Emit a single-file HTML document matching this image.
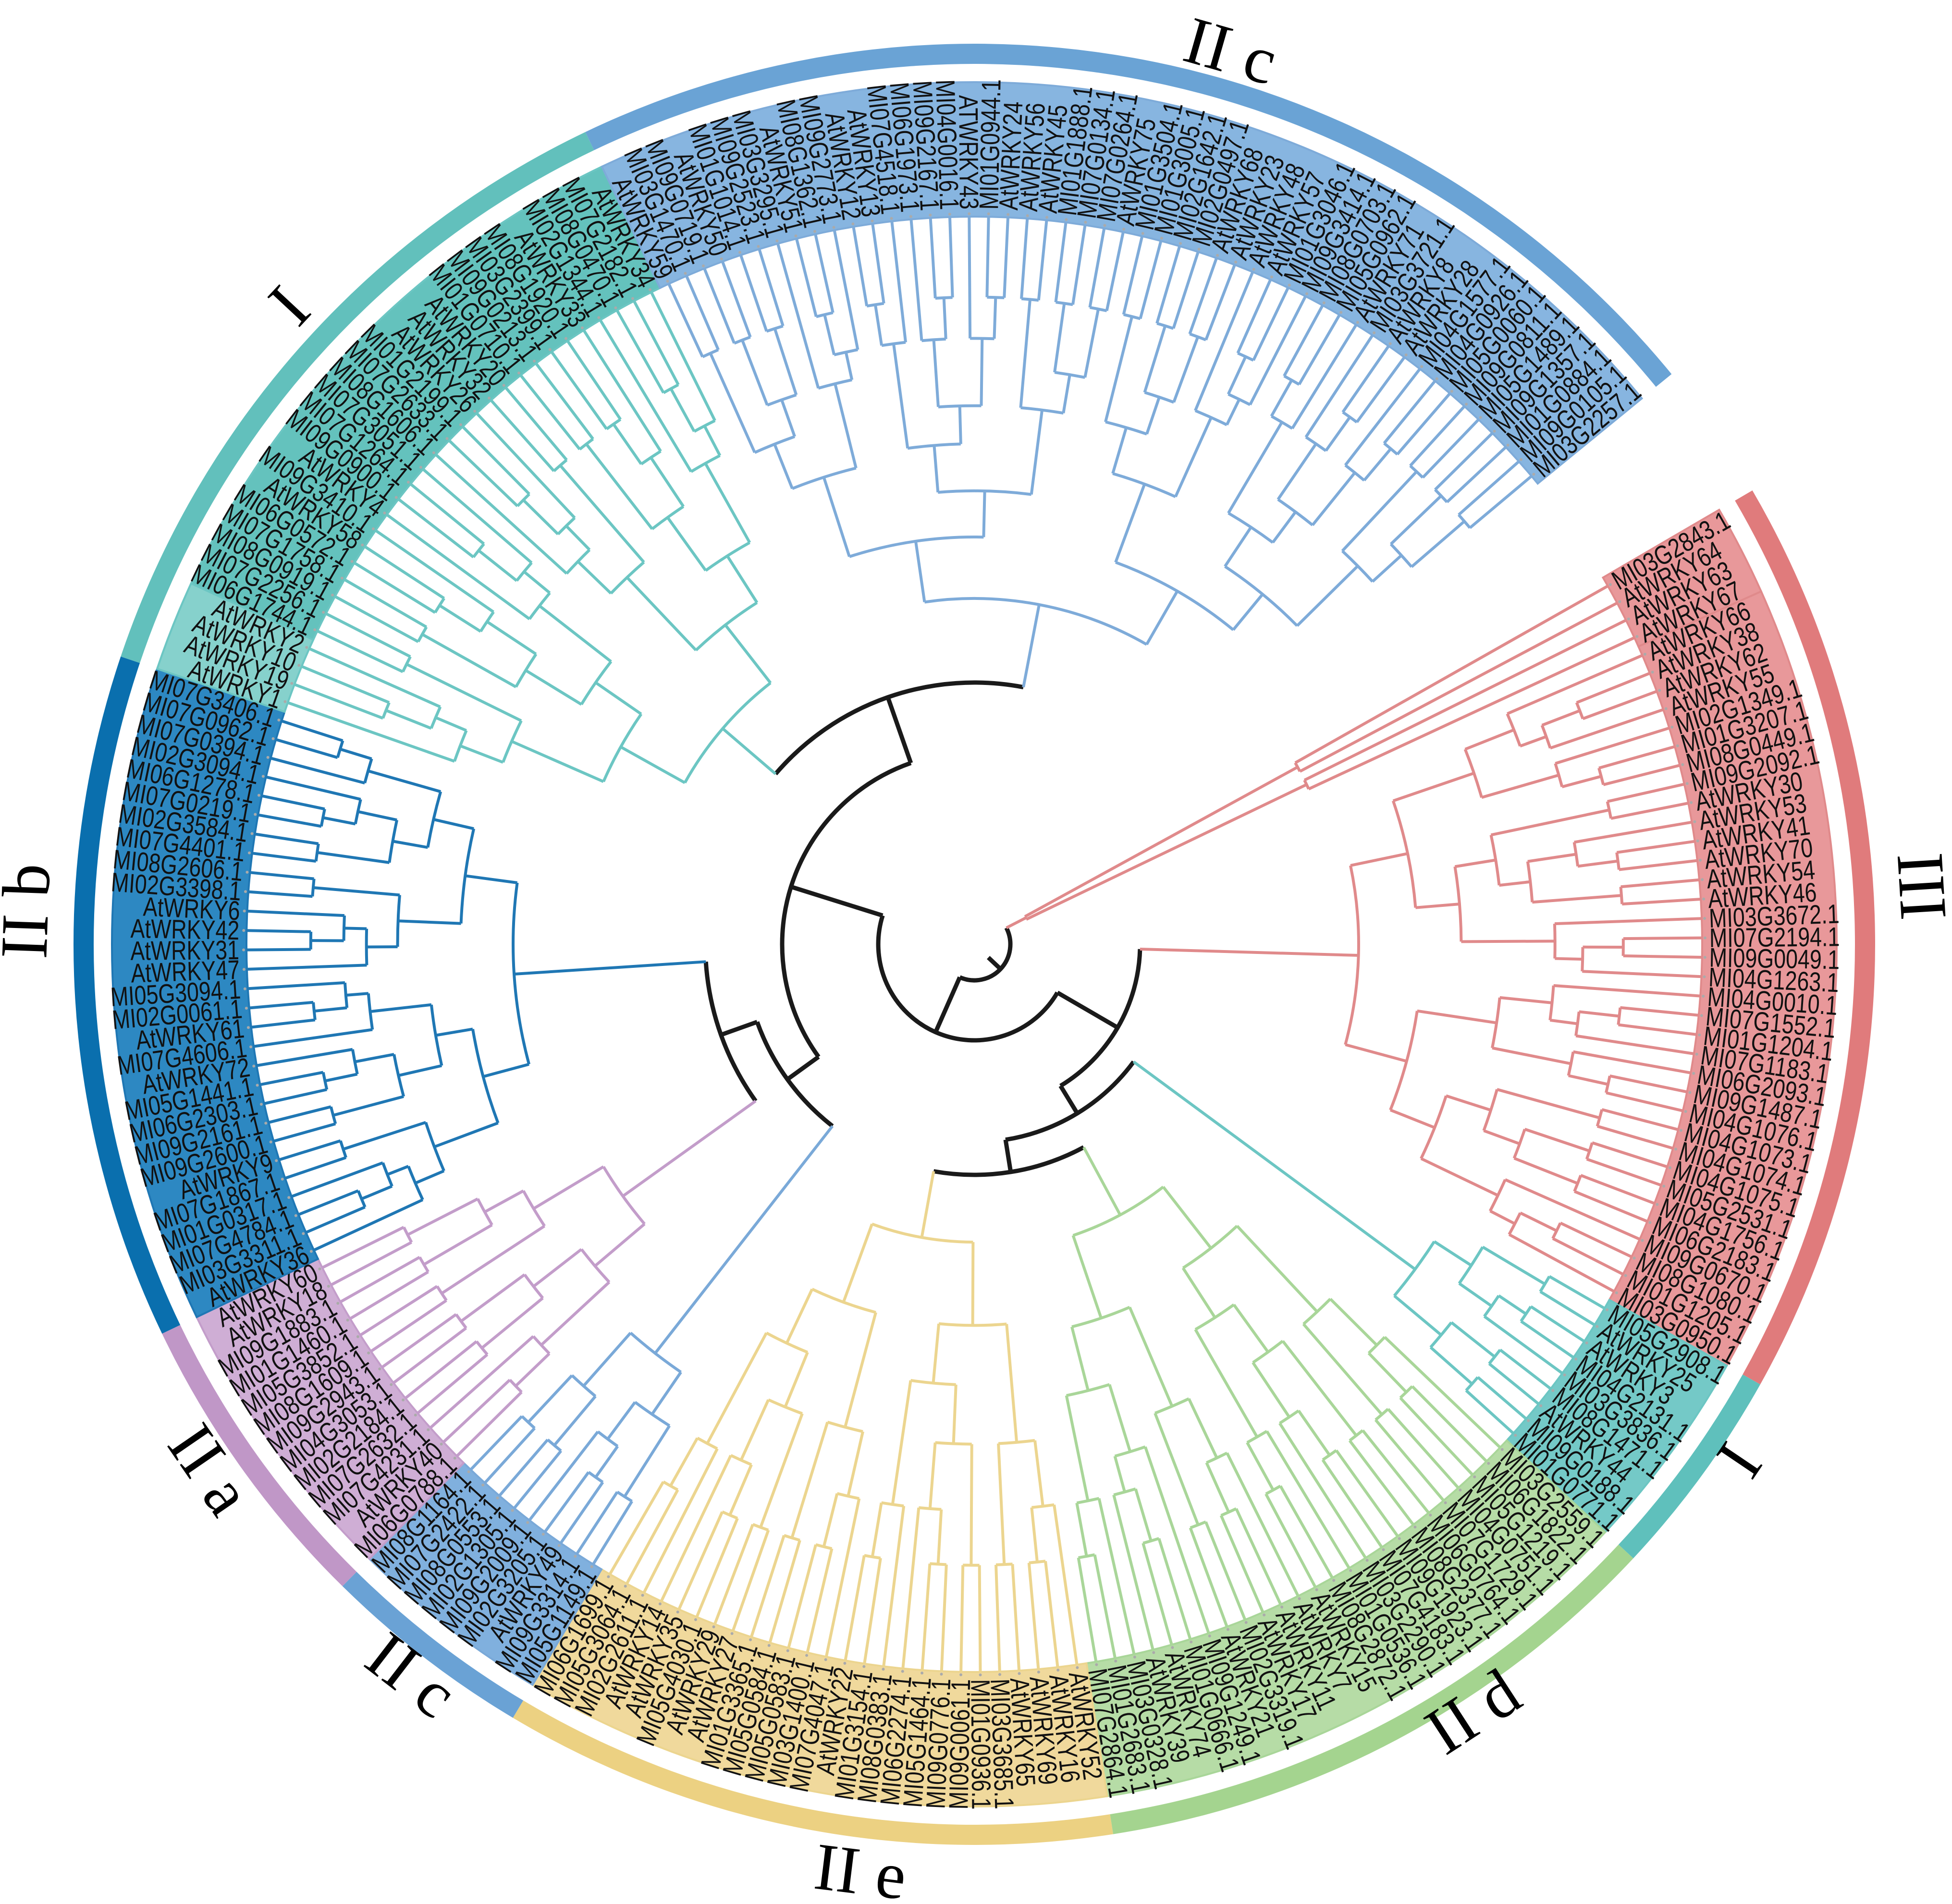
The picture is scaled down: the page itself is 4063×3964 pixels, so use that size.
<!DOCTYPE html>
<html><head><meta charset="utf-8"><title>WRKY phylogenetic tree</title>
<style>
html,body{margin:0;padding:0;background:#fff;}
svg{display:block;}
.leaf{font-family:"Liberation Sans",Arial,sans-serif;font-size:56px;fill:#111;font-weight:500;}
.clade{font-family:"Liberation Serif","Times New Roman",serif;font-size:140px;fill:#000;}
</style></head>
<body>
<svg id="chart" xmlns="http://www.w3.org/2000/svg" width="4063" height="3964" viewBox="0 0 4063 3964">
<rect x="0" y="0" width="4063" height="3964" fill="#fff"/>
<g id="bands"></g>
<g id="rings"></g>
<g id="branches"></g>
<g id="labels"></g>
<g id="cladelabels"></g>
</svg>
<script>
// ---- data ----
const leafNames = [
"MI03G2843.1","AtWRKY64","AtWRKY63","AtWRKY67",
"AtWRKY66","AtWRKY38","AtWRKY62","AtWRKY55","MI02G1349.1","MI01G3207.1","MI08G0449.1","MI09G2092.1","AtWRKY30","AtWRKY53","AtWRKY41","AtWRKY70","AtWRKY54","AtWRKY46","MI03G3672.1","MI07G2194.1","MI09G0049.1","MI04G1263.1","MI04G0010.1","MI07G1552.1","MI01G1204.1","MI07G1183.1","MI06G2093.1","MI09G1487.1","MI04G1076.1","MI04G1073.1","MI04G1074.1","MI04G1075.1","MI05G2531.1","MI04G1756.1","MI06G2183.1","MI09G0670.1","MI08G1080.1","MI01G1205.1","MI03G0950.1",
"MI05G2908.1","AtWRKY25","AtWRKY3","MI04G2131.1","MI03G3836.1","MI08G1471.1","AtWRKY44","MI09G0188.1","MI01G0771.1",
"MI03G2559.1","MI06G1822.1","MI05G1219.1","MI04G0751.1","MI07G1729.1","MI06G0764.1","MI08G2377.1","MI09G1923.1","MI07G4183.1","MI03G2290.1","MI01G0536.1","MI08G2872.1","AtWRKY15","AtWRKY7","AtWRKY11","AtWRKY17","MI02G3319.1","AtWRKY21","MI09G1249.1","MI01G0666.1","AtWRKY74","AtWRKY39","MI03G0328.1","MI01G2683.1","MI07G2864.1",
"AtWRKY52","AtWRKY16","AtWRKY69","AtWRKY65","MI03G3685.1","MI01G0936.1","MI09G0061.1","MI09G0776.1","MI05G1464.1","MI06G2274.1","MI08G0383.1","MI01G3154.1","AtWRKY22","MI07G4047.1","MI03G1400.1","MI05G0583.1","MI05G0584.1","MI01G3365.1","AtWRKY27","AtWRKY29","MI05G4030.1","AtWRKY35","AtWRKY14","MI02G2611.1","MI05G3064.1","MI06G1699.1",
"MI05G1149.1","MI09G3314.1","AtWRKY49","MI02G3205.1","MI09G2009.1","MI02G1305.1","MI08G0553.1","MI07G2422.1","MI08G1164.1",
"MI06G0788.1","AtWRKY40","MI07G4231.1","MI07G2632.1","MI02G2184.1","MI04G3053.1","MI09G2943.1","MI08G1609.1","MI05G3852.1","MI01G1460.1","MI09G1883.1","AtWRKY18","AtWRKY60",
"AtWRKY36","MI03G3311.1","MI07G4784.1","MI01G0317.1","MI07G1867.1","AtWRKY9","MI09G2600.1","MI09G2161.1","MI06G2303.1","MI05G1441.1","AtWRKY72","MI07G4606.1","AtWRKY61","MI02G0061.1","MI05G3094.1","AtWRKY47","AtWRKY31","AtWRKY42","AtWRKY6","MI02G3398.1","MI08G2606.1","MI07G4401.1","MI02G3584.1","MI07G0219.1","MI06G1278.1","MI02G3094.1","MI07G0394.1","MI07G0962.1","MI07G3406.1",
"AtWRKY1","AtWRKY19","AtWRKY10","AtWRKY2","MI06G1744.1","MI07G2256.1","MI08G0919.1","MI07G1758.1","MI06G0572.1","AtWRKY58","MI09G3410.1","AtWRKY4","MI09G0900.1","MI07G1264.1","MI07G3051.1","MI08G1606.1","MI07G2633.1","MI01G2199.1","AtWRKY26","AtWRKY32","AtWRKY20","MI01G0710.1","MI09G0213.1","MI03G2399.1","MI08G1920.1","AtWRKY33","MI02G1344.1","MI08G0470.1","MI07G2182.1","AtWRKY34",
"AtWRKY59","MI03G1470.1","MI09G0719.1","AtWRKY50","MI01G1014.1","MI09G2523.1","MI03G3295.1","AtWRKY51","MI08G1362.1","MI09G2773.1","AtWRKY12","AtWRKY13","MI07G4518.1","MI06G1973.1","MI09G2167.1","MI04G0016.1","ATWRKY43","MI01G0944.1","AtWRKY24","AtWRKY56","AtWRKY45","MI01G1888.1","MI07G0134.1","MI07G0264.1","AtWRKY75","MI01G3504.1","MI01G3005.1","MI02G1642.1","MI02G0497.1","AtWRKY68","AtWRKY23","AtWRKY48","AtWRKY57","MI01G3046.1","MI09G3414.1","MI08G0703.1","MI05G0962.1","AtWRKY71","MI03G3721.1","AtWRKY8","AtWRKY28","MI04G1577.1","MI04G0926.1","MI05G0060.1","MI09G0811.1","MI05G1489.1","MI09G1357.1","MI01G0884.1","MI09G0105.1","MI03G2257.1"
];
const cladeKeys   = ["IIIa","IIIb","Ir","IId","IIe","IIcL","IIa","IIb","Iu","IIcT"];
const cladeSizes  = [4,35,9,25,26,9,13,29,30,50];
const cladeRootR  = [120,800,1140,640,620,1080,900,960,690,720];
const cladeLine   = ["#e08a8b","#e08a8b","#6cc6c3","#a9d699","#ecd58f","#7aa9d8","#c39dca","#1f77b4","#6cc6c3","#7eabd9"];
const cladeBand   = ["#e8989a","#e8989a","#74c9c7","#b6dca6","#f0d99c","#80b0de","#cfaed5","#2d88c2","#64c2bd","#87b5e0"];
const ringGroups  = ["III","I","IId","IIe","IIc","IIa","IIb","I","IIc"];
const ringSizes   = [39,9,25,26,9,13,29,30,50];
const ringColors  = ["#e07b7c","#5fc0bc","#a4d48f","#ecd182","#6aa2d5","#c097c7","#0a6fae","#62c0bc","#6aa3d5"];
const cladeLabelText  = ["III","II c","I","II b","II a","II c","II e","II d","I"];
const cladeLabelAngle = [-3.5,-74,223,182,145.5,127.6,97,57,34];
const cladeLabelR     = [1976,1935,1950,1976,1930,1920,1945,1905,1920];

// ---- geometry ----
const CX=2028, CY=1966, TIP=1515, BAND0=1515, BAND1=1795, RING0=1833, RING1=1875;
const START=-29.5, STEP=1.526;
const NS="http://www.w3.org/2000/svg";
function ang(i){return START+i*STEP;}
function pt(a,r){const t=a*Math.PI/180;return [CX+r*Math.cos(t),CY+r*Math.sin(t)];}
function arcPath(a0,a1,r){const p=pt(a0,r),q=pt(a1,r);const lg=(a1-a0)>180?1:0;return `M${p[0].toFixed(1)},${p[1].toFixed(1)}A${r},${r} 0 ${lg} 1 ${q[0].toFixed(1)},${q[1].toFixed(1)}`;}
function sector(a0,a1,r0,r1){const p=pt(a0,r1),q=pt(a1,r1),s=pt(a1,r0),u=pt(a0,r0);const lg=(a1-a0)>180?1:0;
 return `M${p[0]},${p[1]}A${r1},${r1} 0 ${lg} 1 ${q[0]},${q[1]}L${s[0]},${s[1]}A${r0},${r0} 0 ${lg} 0 ${u[0]},${u[1]}Z`;}
function mk(tag,attrs,parent){const e=document.createElementNS(NS,tag);for(const k in attrs)e.setAttribute(k,attrs[k]);parent.appendChild(e);return e;}

const gB=document.getElementById("bands"),gR=document.getElementById("rings"),gT=document.getElementById("branches"),gL=document.getElementById("labels"),gC=document.getElementById("cladelabels");

const cladeStart=[];{let s=0;for(const n of cladeSizes){cladeStart.push(s);s+=n;}}

cladeKeys.forEach((k,ci)=>{
 const s=cladeStart[ci],n=cladeSizes[ci];
 const e=mk("path",{d:sector(ang(s)-STEP/2,ang(s+n-1)+STEP/2,BAND0,BAND1),fill:cladeBand[ci],stroke:cladeLine[ci],"stroke-width":4},gB);
 
 
});
{const s=cladeStart[8];const e=mk("path",{d:sector(ang(s)-STEP/2,ang(s+3)+STEP/2,BAND0,BAND1),fill:"#86d1cc",stroke:"#6cc6c3","stroke-width":4},gB);
 
 }

{let s=0;ringGroups.forEach((g,i)=>{
 const n=ringSizes[i];
 const e=mk("path",{d:sector(ang(s)-STEP/2,ang(s+n-1)+STEP/2,RING0,RING1),fill:ringColors[i]},gR);
 
 
 s+=n;});}

const FR=[0.5,0.4,0.6,0.35,0.55,0.45];
function sub(lo,hi,R,N,d,ci){
 const n=hi-lo;
 if(n===1) return {a:ang(lo),r:TIP,ci:ci,c:[]};
 const r = n===N?R:TIP-(TIP-R)*Math.pow(Math.log(n)/Math.log(N),0.9);
 let m=lo+Math.round(n*FR[d%FR.length]);m=Math.max(lo+1,Math.min(hi-1,m));
 const c=[sub(lo,m,R,N,d+1,ci),sub(m,hi,R,N,d+1,ci)];
 return {a:(c[0].a+c[1].a)/2,r:r,ci:ci,c:c};
}
const cladeRoots={};
cladeKeys.forEach((k,ci)=>{cladeRoots[k]=sub(cladeStart[ci],cladeStart[ci]+cladeSizes[ci],cladeRootR[ci],cladeSizes[ci],0,ci);});

const backbone={r:75,c:["IIIa",{r:200,c:[
  {r:345,c:["IIIb",{r:412,c:["Ir",{r:480,c:["IId","IIe"]}]}]},
  {r:400,c:[{r:480,c:["IIcL",{r:560,c:["IIa","IIb"]}]},{r:545,c:["Iu","IIcT"]}]}
]}]};
function resolve(node){
 if(typeof node==="string") return cladeRoots[node];
 const c=node.c.map(resolve);
 return {a:(c[0].a+c[c.length-1].a)/2,r:node.r,ci:-1,c:c};
}
const root=resolve(backbone);

function drawNode(nd){
 if(nd.c.length===0) return;
 const col=nd.ci<0?"#1a1a1a":cladeLine[nd.ci];
 const sw=nd.ci<0?9:6;
 const a0=Math.min(...nd.c.map(x=>x.a)),a1=Math.max(...nd.c.map(x=>x.a));
 const arc=mk("path",{d:arcPath(a0,a1,nd.r),fill:"none",stroke:col,"stroke-width":sw},gT);
 
 
 nd.c.forEach(ch=>{
  const cc=ch.ci<0?"#1a1a1a":cladeLine[ch.ci];
  const p=pt(ch.a,nd.r),q=pt(ch.a,ch.r);
  const ln=mk("line",{x1:p[0],y1:p[1],x2:q[0],y2:q[1],stroke:cc,"stroke-width":ch.ci<0?9:6},gT);
  
  
  drawNode(ch);
 });
}
{const p=pt(root.a,40),q=pt(root.a,75);const s=mk("line",{x1:p[0],y1:p[1],x2:q[0],y2:q[1],stroke:"#1a1a1a","stroke-width":9},gT);
 
 }
drawNode(root);

leafNames.forEach((name,i)=>{
 const a=ang(i);const na=((a%360)+360)%360;
 const flip=na>90&&na<270;
 const t=mk("text",{class:"leaf","dominant-baseline":"central","text-anchor":flip?"end":"start",
  transform:`translate(${CX},${CY}) rotate(${a}) translate(1530,0)${flip?" rotate(180)":""} scale(0.8,1)`,x:0,y:0},gL);
 t.textContent=name;
 
 
 const d=pt(a,1521);
 const dot=mk("circle",{cx:d[0],cy:d[1],r:3,fill:"#aaa"},gL);
 
 
});

cladeLabelText.forEach((txt,i)=>{
 const a=cladeLabelAngle[i];const p=pt(a,cladeLabelR[i]);
 const na=((a%360)+360)%360;
 const rot=(na>0&&na<180)?a-90:a+90;
 const t=mk("text",{class:"clade","text-anchor":"middle","dominant-baseline":"central",transform:`translate(${p[0]},${p[1]}) rotate(${rot})`},gC);
 t.textContent=txt;
 
 
});
</script>
</body></html>
